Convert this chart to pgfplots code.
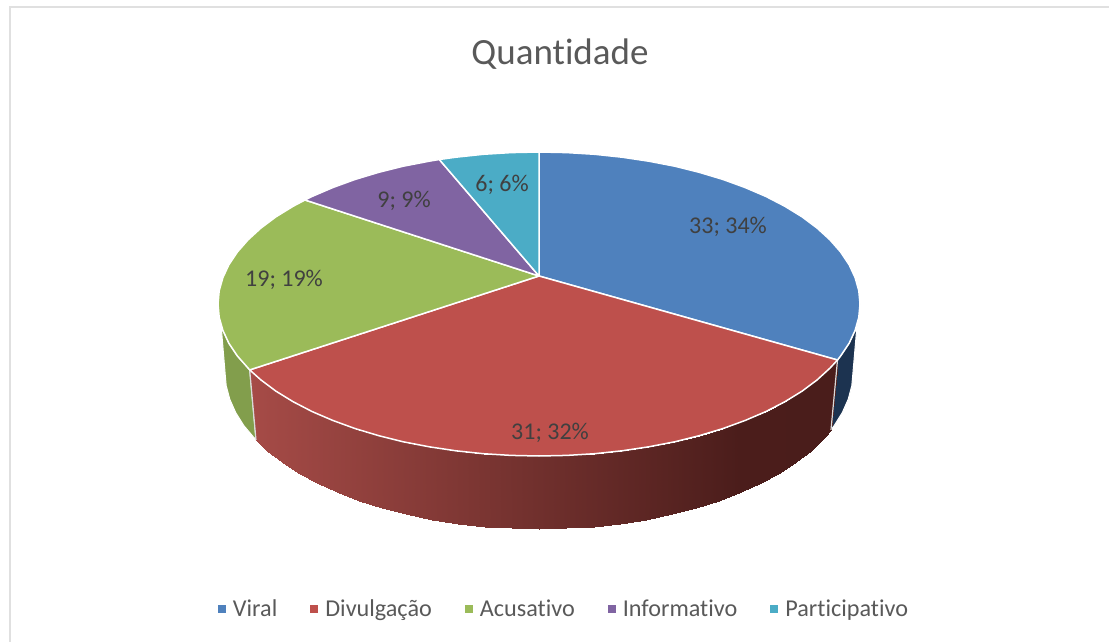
\documentclass[border=0pt]{standalone}
\usepackage{fontspec}
\setmainfont[Ligatures=NoCommon]{Carlito}
\usepackage{pgfplots}
\pgfplotsset{compat=1.18}
\definecolor{cBlue}{HTML}{4F81BD}
\definecolor{cRed}{HTML}{BE504C}
\definecolor{cGreen}{HTML}{9BBB59}
\definecolor{cPurple}{HTML}{8064A2}
\definecolor{cTeal}{HTML}{4BACC6}
\definecolor{cBlueSide}{HTML}{1C3350}
\definecolor{cGreenSide}{HTML}{829E4C}
\definecolor{frameC}{HTML}{E0E0E0}
\begin{document}
\begin{tikzpicture}
\path[use as bounding box] (0,0) rectangle (1109pt,642pt);
\begin{axis}[
  at={(0,0)},anchor=south west,
  scale only axis,width=1109pt,height=642pt,
  xmin=0,xmax=1109,ymin=0,ymax=642,y dir=reverse,
  hide axis,clip=false,
  colormap={redside}{rgb255(0pt)=(166,75,71); rgb255(843pt)=(75,29,27); rgb255(1000pt)=(74,29,27)},
  legend columns=-1,
  legend cell align=left,
  legend image code/.code={\fill[#1,draw=none] (0pt,-4pt) rectangle (8pt,4pt); \path[draw=none,fill=none] (0pt,0pt) -- (13pt,0pt);},
  legend style={at={(axis cs:564,609)},anchor=center,draw=none,fill=none,
    font=\fontsize{24.2}{28}\selectfont,text=black!65,
    /tikz/every even column/.append style={column sep=31pt}},
]
% frame
\addplot[forget plot,frameC,line width=2pt] coordinates {(9.5,642) (9.5,7.5) (1109,7.5)};
% side walls
\addplot[forget plot,fill=cBlueSide,draw=white,line width=1pt] coordinates {
(857,325.2)(855.1,330.4)(849.1,343.3)(840.6,356)(837.5,360)(831,429.8)(834.1,425.7)(842.3,412.6)(848.2,399.3)(851.8,385.7)(853,372)} --cycle;
\addplot[forget plot,fill=cGreenSide,draw=white,line width=1pt] coordinates {
(249.7,369.9)(237.4,356)(228.9,343.3)(222.9,330.4)(221.1,325.2)(225,372)(226.2,385.7)(229.8,399.3)(235.7,412.6)(243.9,425.7)(256,440)} --cycle;
\addplot[forget plot,surf,shader=interp,mesh/rows=2,point meta=x,point meta min=250,point meta max=831,colormap name=redside] coordinates {
(837.5,360)(829.9,368.2)(817,380)(802,391.2)(784.9,401.7)(766,411.5)(745.3,420.4)(723.1,428.5)(699.5,435.6)(674.7,441.8)(648.8,446.8)(622.1,450.8)(594.7,453.7)(567,455.4)(539,456)(511,455.4)(483.3,453.7)(455.9,450.8)(429.2,446.8)(403.3,441.8)(378.5,435.6)(354.9,428.5)(332.7,420.4)(312,411.5)(293.1,401.7)(276,391.2)(261,380)(249.7,369.9)
(831,429.8)(823.6,438.3)(810.9,450.5)(796.2,462.1)(779.5,472.9)(761,483)(740.8,492.3)(719.1,500.6)(696,508)(671.7,514.3)(646.4,519.5)(620.3,523.6)(593.5,526.6)(566.4,528.4)(539,529)(511.6,528.4)(484.5,526.6)(457.7,523.6)(431.6,519.5)(406.3,514.3)(382,508)(358.9,500.6)(337.2,492.3)(317,483)(298.5,472.9)(281.8,462.1)(267.1,450.5)(256,440)
};
\addplot[forget plot,white!85!black,line width=1.2pt] coordinates {(837.5,360)(831,429.8)};
\addplot[forget plot,white!85!black,line width=1.2pt] coordinates {(249.7,369.9)(256,440)};
% top slices
\addplot[fill=cBlue,draw=white,line width=1.5pt,line join=round] coordinates {
(539,276)(539,152)(567,152.6)(594.7,154.3)(622.1,157.2)(648.8,161.2)(674.7,166.2)(699.5,172.4)(723.1,179.5)(745.3,187.6)(766,196.5)(784.9,206.3)(802,216.8)(817,228)(829.9,239.8)(840.6,252)(849.1,264.7)(855.1,277.6)(858.8,290.7)(860,304)(858.8,317.3)(855.1,330.4)(849.1,343.3)(840.6,356)(837.5,360)} --cycle;
\addlegendentry{Viral}
\addplot[fill=cRed,draw=white,line width=1.5pt,line join=round] coordinates {
(539,276)(837.5,360)(829.9,368.2)(817,380)(802,391.2)(784.9,401.7)(766,411.5)(745.3,420.4)(723.1,428.5)(699.5,435.6)(674.7,441.8)(648.8,446.8)(622.1,450.8)(594.7,453.7)(567,455.4)(539,456)(511,455.4)(483.3,453.7)(455.9,450.8)(429.2,446.8)(403.3,441.8)(378.5,435.6)(354.9,428.5)(332.7,420.4)(312,411.5)(293.1,401.7)(276,391.2)(261,380)(249.7,369.9)} --cycle;
\addlegendentry{Divulgação}
\addplot[fill=cGreen,draw=white,line width=1.5pt,line join=round] coordinates {
(539,276)(249.7,369.9)(237.4,356)(228.9,343.3)(222.9,330.4)(219.2,317.3)(218,304)(219.2,290.7)(222.9,277.6)(228.9,264.7)(237.4,252)(248.1,239.8)(261,228)(276,216.8)(293.1,206.3)(305,200)} --cycle;
\addlegendentry{Acusativo}
\addplot[fill=cPurple,draw=white,line width=1.5pt,line join=round] coordinates {
(539,276)(305,200)(312,196.5)(332.7,187.6)(354.9,179.5)(378.5,172.4)(403.3,166.2)(429.2,161.2)(439.3,159.5)} --cycle;
\addlegendentry{Informativo}
\addplot[fill=cTeal,draw=white,line width=1.5pt,line join=round] coordinates {
(539,276)(439.3,159.5)(455.9,157.2)(483.3,154.3)(511,152.6)(539,152)} --cycle;
\addlegendentry{Participativo}
% labels
\node[text=black!75,font=\fontsize{24}{28}\selectfont] at (axis cs:728,226.5) {33; 34\%};
\node[text=black!75,font=\fontsize{24}{28}\selectfont] at (axis cs:550,432.5) {31; 32\%};
\node[text=black!75,font=\fontsize{24}{28}\selectfont] at (axis cs:284,279.5) {19; 19\%};
\node[text=black!75,font=\fontsize{24}{28}\selectfont] at (axis cs:404,200.5) {9; 9\%};
\node[text=black!75,font=\fontsize{24}{28}\selectfont] at (axis cs:502,184.5) {6; 6\%};
\node[text=black!65,font=\fontsize{37}{42}\selectfont] at (axis cs:560,54) {Quantidade};
\end{axis}
\end{tikzpicture}
\end{document}
